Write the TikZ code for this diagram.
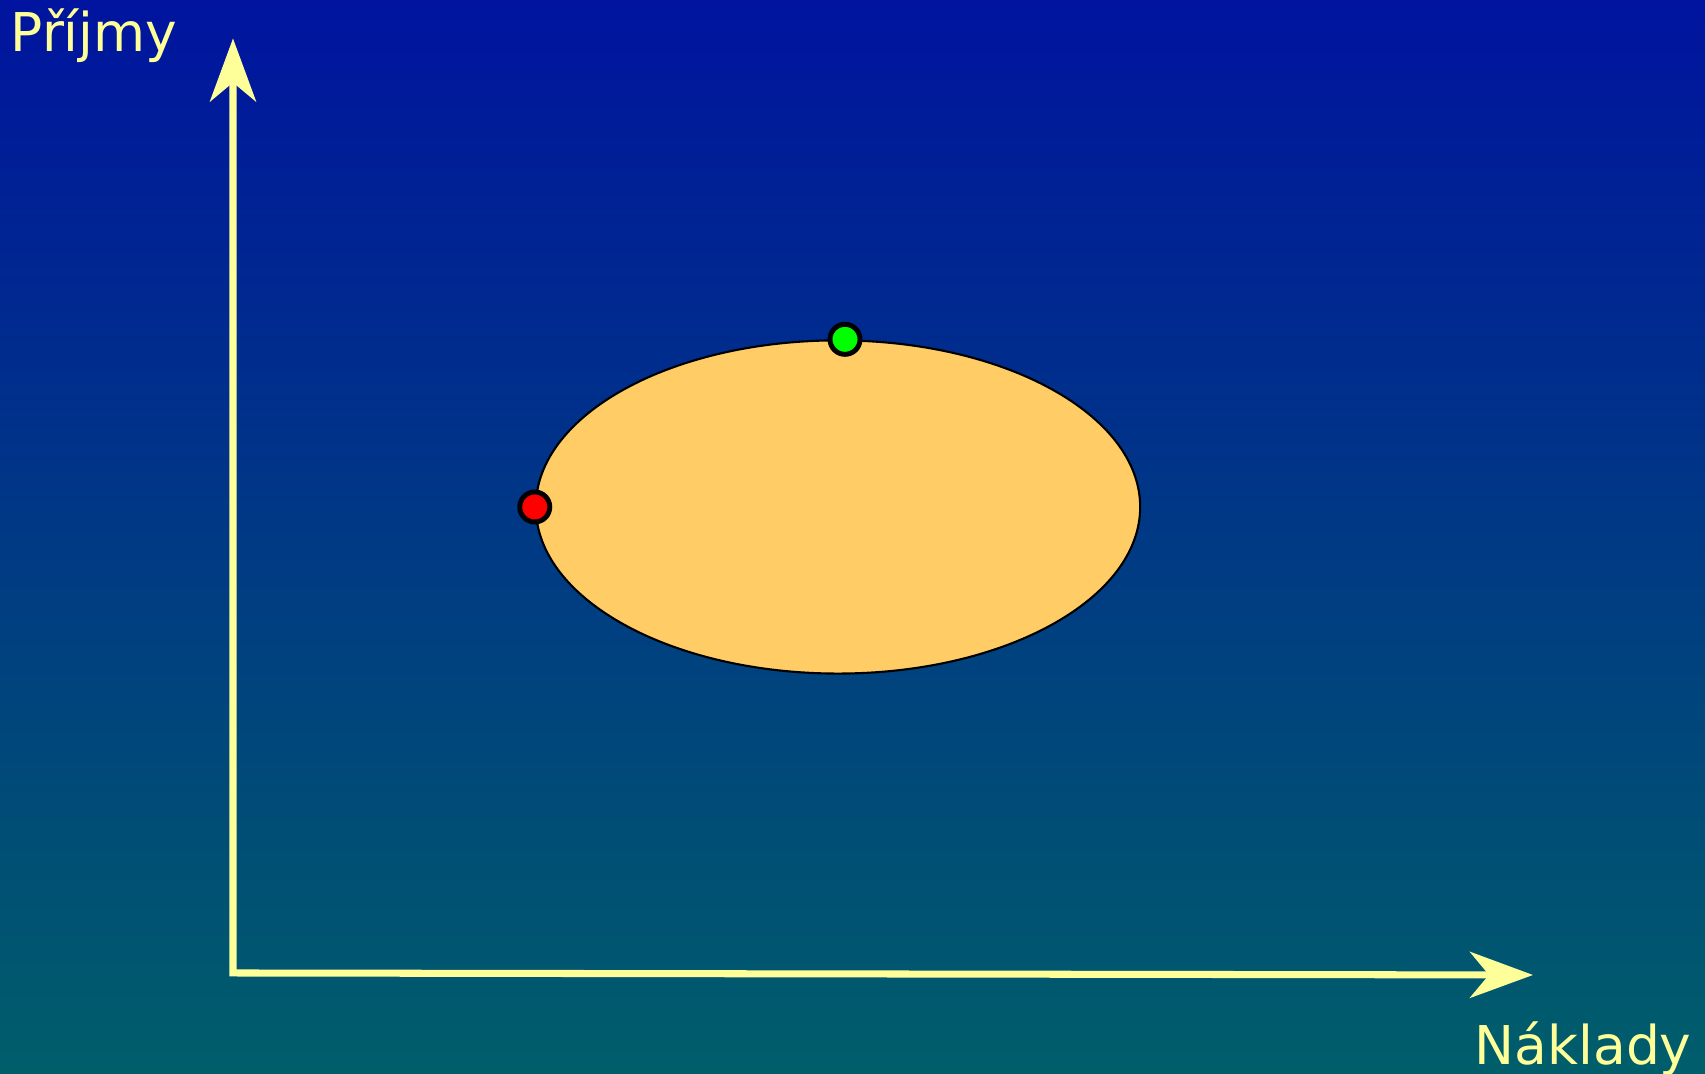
\documentclass[tikz,border=0pt]{standalone}
\usepackage{fontspec}
\setmainfont{DejaVu Sans}
\usepackage{tikz}
\usetikzlibrary{shapes.geometric, arrows.meta, positioning, calc}
\definecolor{SkyTop}{HTML}{00149F}
\definecolor{SkyBottom}{HTML}{005E6A}
\definecolor{AxisYellow}{HTML}{FFFF99}
\definecolor{RegionOrange}{HTML}{FFCC66}
\definecolor{DotGreen}{HTML}{00FF00}
\definecolor{DotRed}{HTML}{FF0000}

\begin{document}
\begin{tikzpicture}[
  x=0.01cm, y=0.01cm,
  axis/.style={{Stealth[length=0.63cm, width=0.46cm, inset=0.19cm]}-{Stealth[length=0.63cm, width=0.46cm, inset=0.19cm]},
               line width=2pt, AxisYellow},
  region/.style={ellipse, draw=black, line width=0.6pt, fill=RegionOrange,
                 minimum width=6.04cm, minimum height=3.33cm, inner sep=0pt},
  dot/.style={circle, draw=black, line width=1.4pt, minimum size=0.3cm, inner sep=0pt},
  lbl/.style={font=\fontsize{15.2}{18}\selectfont, text=AxisYellow, inner sep=0pt, anchor=base west},
]
\useasboundingbox (0,0) rectangle (1705,1074);
\shade[top color=SkyTop, bottom color=SkyBottom] (0,0) rectangle (1705,1074);

% axes
\coordinate (origin) at (233,101);
\coordinate (ytip) at (233,1035.5);
\coordinate (xtip) at (1533,99);
\draw[axis] (ytip) -- (origin) -- (xtip);

\node[lbl] (income) at (10,1022) {Příjmy};
\node[lbl] (costs) at (1474,9) {Náklady};

% feasible set
\node[region] (set) at (838,567) {};
\node[dot, fill=DotGreen] (best) at ([xshift=0.07cm]set.north) {};
\node[dot, fill=DotRed] (cheap) at (set.west) {};

\end{tikzpicture}
\end{document}
